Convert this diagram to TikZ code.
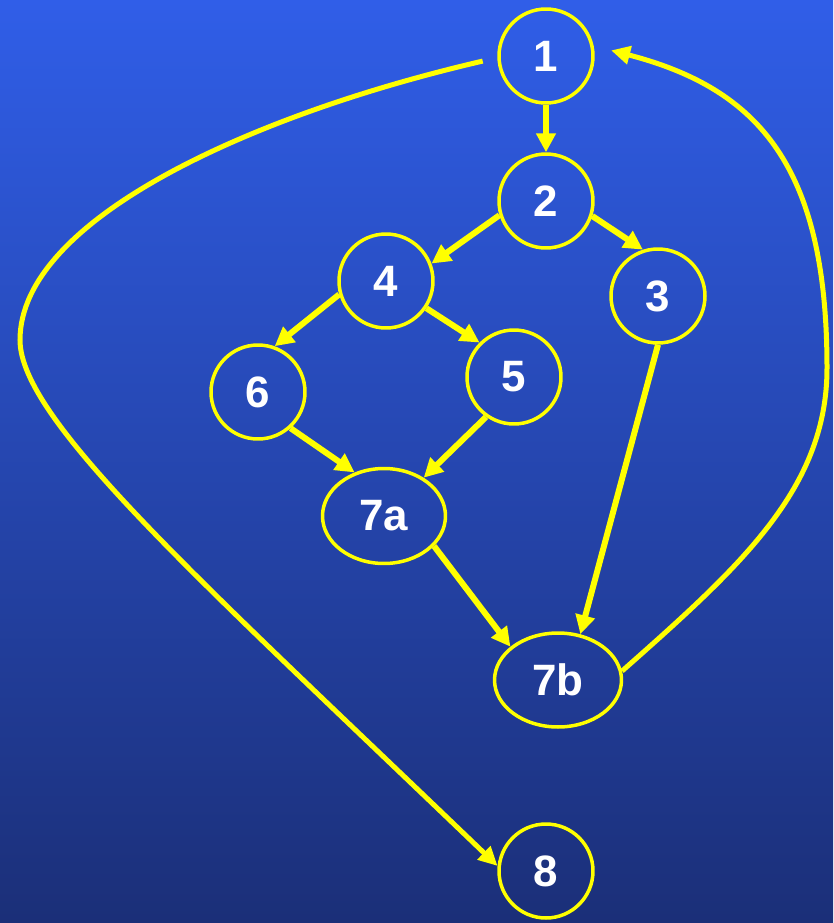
\documentclass[tikz,border=0pt]{standalone}
\usepackage{fontspec}
\setmainfont{Liberation Sans}
\usetikzlibrary{shapes.geometric, arrows.meta, positioning}
\definecolor{bgtop}{RGB}{48,94,232}
\definecolor{bgbottom}{RGB}{27,47,120}
\definecolor{edgeyellow}{RGB}{255,255,0}
\tikzset{
    vertex/.style={circle, draw=edgeyellow, line width=0.07cm, minimum size=1.88cm, inner sep=0pt, text=white, font=\bfseries\fontsize{25}{30}\selectfont},
    ovalvertex/.style={ellipse, draw=edgeyellow, line width=0.07cm, inner sep=0pt, text=white, font=\bfseries\fontsize{25}{30}\selectfont},
    arrow/.style={-{Triangle[length=0.38cm, width=0.38cm]}, line width=0.12cm, edgeyellow},
    backarrow/.style={-{Triangle[length=0.38cm, width=0.36cm]}, line width=0.1cm, edgeyellow}
}

\begin{document}
\begin{tikzpicture}[x=0.02cm, y=-0.02cm]
        % Background
        \shade[top color=bgtop, bottom color=bgbottom] (0,0) rectangle (833,923);
        \useasboundingbox (0,0) rectangle (833,923);

        % Define nodes at their positions
        \node [vertex] (n1) at (546,56) {1};
        \node [vertex] (n2) at (546,201) {2};
        \node [vertex] (n4) at (386,281) {4};
        \node [vertex] (n3) at (658,296) {3};
        \node [vertex] (n6) at (258,392) {6};
        \node [vertex] (n5) at (514,377) {5};
        \node [ovalvertex, minimum width=2.46cm, minimum height=1.9cm] (n7a) at (384,516) {7a};
        \node [ovalvertex, minimum width=2.54cm, minimum height=1.88cm] (n7b) at (558,680) {7b};
        \node [vertex] (n8) at (546,871) {8};

        \draw [arrow] (n1) -- (n2);
        \draw [arrow] (n2.197) -- (n4.21);
        \draw [arrow] (n2.-18) -- (n3.108);
        \draw [arrow] (n4.196) -- (n6.70);
        \draw [arrow] (n4.-34) -- (n5.135);
        \draw [arrow] (n6.-48) -- (n7a.124);
        \draw [arrow] (n5.-125) -- (n7a.44);
        \draw [arrow] (n7a.-31) -- (n7b.145);
        \draw [arrow] (n3.-90) -- (n7b.64);

        % Loop back and exit
        \draw [backarrow, shorten >=0.36cm] (n7b.8) .. controls (742,565) and (827,488) .. (827,368) .. controls (827,168) and (760,89) .. (n1.12);
        \draw [backarrow, shorten <=0.3cm] (n1.182) .. controls (250,115) and (20,220) .. (20,340) .. controls (20,420) and (200,580) .. (n8.174);
    \end{tikzpicture}
\end{document}
